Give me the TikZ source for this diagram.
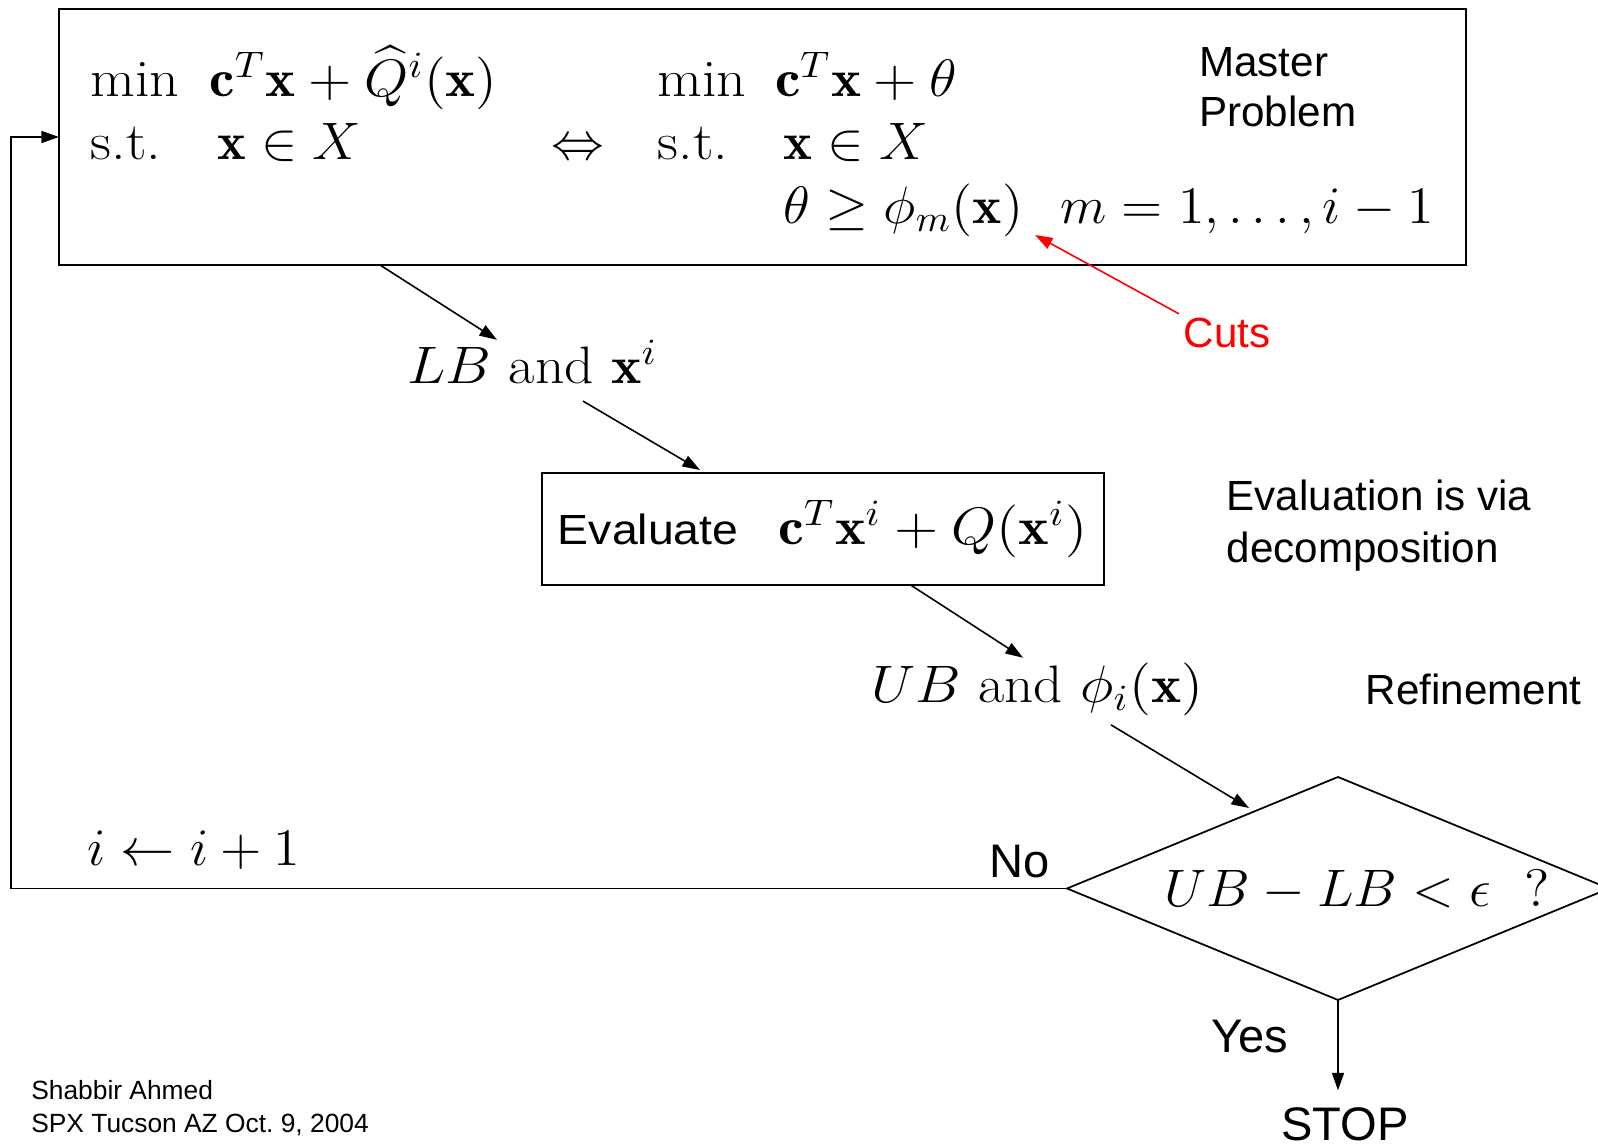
\RequirePackage{fix-cm}
\documentclass[tikz,border=0pt]{standalone}
\usepackage{amsmath}
\usepackage{graphicx}
\usepackage{fontspec}
\setsansfont{Liberation Sans}
\usetikzlibrary{arrows.meta,shapes.geometric}
\definecolor{cutred}{HTML}{FF0000}
\newcommand{\hstretch}[2]{\scalebox{#1}[1]{#2}}
\tikzset{
  box/.style={draw,line width=0.6pt,inner sep=0pt,outer sep=0pt},
  mth/.style={inner sep=0pt,anchor=base west,font=\fontsize{15}{18}\selectfont},
  lbl/.style={inner sep=0pt,anchor=base west,font=\sffamily\fontsize{12}{14.4}\selectfont},
  ans/.style={inner sep=0pt,anchor=base,font=\sffamily\fontsize{13.4}{16}\selectfont},
  foot/.style={inner sep=0pt,anchor=base west,font=\sffamily\fontsize{7.5}{9}\selectfont},
  flow/.style={->,line width=0.45pt},
}
\begin{document}
\begin{tikzpicture}[>={Triangle[length=5pt,width=3.4pt]}]
  \useasboundingbox (0,0) rectangle (15.98,-11.44);
  \clip (0,0) rectangle (15.98,-11.44);
  % master problem
  \node[box,minimum width=14.07cm,minimum height=2.56cm] (master) at (7.625,-1.37) {};
  \node[mth] (lmin) at (0.90,-0.97) {\hstretch{1.1}{$\min$}};
  \node[mth] (lobj) at (2.09,-0.97) {\hstretch{1.08}{$\mathbf{c}^T\mathbf{x}+\widehat{Q}^i(\mathbf{x})$}};
  \node[mth] (lst) at (0.90,-1.60) {\hstretch{1.1}{s.t.}};
  \node[mth] (lcon) at (2.17,-1.60) {\hstretch{1.03}{$\mathbf{x}\in X$}};
  \node[mth] (equiv) at (5.51,-1.60) {$\Leftrightarrow$};
  \node[mth] (rmin) at (6.57,-0.97) {\hstretch{1.1}{$\min$}};
  \node[mth] (robj) at (7.745,-0.97) {\hstretch{1.08}{$\mathbf{c}^T\mathbf{x}+\theta$}};
  \node[mth] (rst) at (6.57,-1.60) {\hstretch{1.1}{s.t.}};
  \node[mth] (rcon) at (7.826,-1.60) {\hstretch{1.04}{$\mathbf{x}\in X$}};
  \node[mth] (rcut) at (7.826,-2.24) {\hstretch{1.05}{$\theta\geq\phi_m(\mathbf{x})$}};
  \node[mth] (rrng) at (10.60,-2.24) {\hstretch{1.025}{$m=1,\ldots,i-1$}};
  \node[lbl] (mst1) at (11.985,-0.77) {Master};
  \node[lbl] (mst2) at (11.985,-1.27) {Problem};
  \node[lbl,text=cutred] (cuts) at (11.83,-3.48) {Cuts};
  \draw[->,cutred,line width=0.45pt] ([shift={(-0.04cm,0.04cm)}]cuts.north west) -- ([xshift=-0.25cm]rrng.south west);
  % evaluation step
  \node[mth] (lb) at (4.07,-3.84) {\hstretch{1.09}{$LB$ and $\mathbf{x}^i$}};
  \node[box,minimum width=5.62cm,minimum height=1.12cm] (eval) at (8.226,-5.286)
    {\hstretch{1.1}{\sffamily\fontsize{12}{14.4}\selectfont Evaluate\hspace{0.36cm}\fontsize{15}{18}\selectfont$\mathbf{c}^T\mathbf{x}^i+Q(\mathbf{x}^i)$}};
  \node[lbl] (evn1) at (12.26,-5.11) {Evaluation is via};
  \node[lbl] (evn2) at (12.26,-5.63) {decomposition};
  \node[mth] (ub) at (8.71,-7.03) {\hstretch{1.085}{$UB$ and $\phi_i(\mathbf{x})$}};
  \node[lbl] (refn) at (13.65,-7.05) {Refinement};
  \draw[flow] ([xshift=3.21cm]master.south west) -- ([xshift=0.90cm]lb.north west);
  \draw[flow] ([shift={(1.76cm,-0.16cm)}]lb.south west) -- ([shift={(-1.226cm,0.026cm)}]eval.north);
  \draw[flow] ([xshift=0.874cm]eval.south) -- ([shift={(1.52cm,0.05cm)}]ub.north west);
  % test and loop
  \node[draw,diamond,line width=0.5pt,minimum width=5.42cm,minimum height=2.23cm,inner sep=0pt,outer sep=0pt] (test) at (13.38,-8.885) {};
  \node[mth] (cond) at (11.64,-9.07) {\hstretch{1.04}{$UB-LB<\epsilon\ \ ?$}};
  \draw[flow] ([shift={(2.40cm,-0.08cm)}]ub.south west) -- ([shift={(-0.89cm,0.805cm)}]test.center);
  \node[ans] (no) at (10.20,-8.78) {No};
  \node[ans] (yes) at (12.50,-10.53) {Yes};
  \node[ans,inner ysep=0.17cm] (stop) at (13.45,-11.41) {STOP};
  \draw[flow] (test.south) -- (test.south |- stop.north);
  \node[mth] (incr) at (0.867,-8.66) {\hstretch{1.03}{$i\leftarrow i+1$}};
  \coordinate (fb) at (0.11,-8.885);
  \draw[flow,line width=0.5pt] (test.west) -- (fb) |- (master.west);
  % footer
  \node[foot] (auth) at (0.306,-11.00) {Shabbir Ahmed};
  \node[foot] (venue) at (0.306,-11.327) {SPX Tucson AZ Oct.\ 9, 2004};
\end{tikzpicture}
\end{document}
